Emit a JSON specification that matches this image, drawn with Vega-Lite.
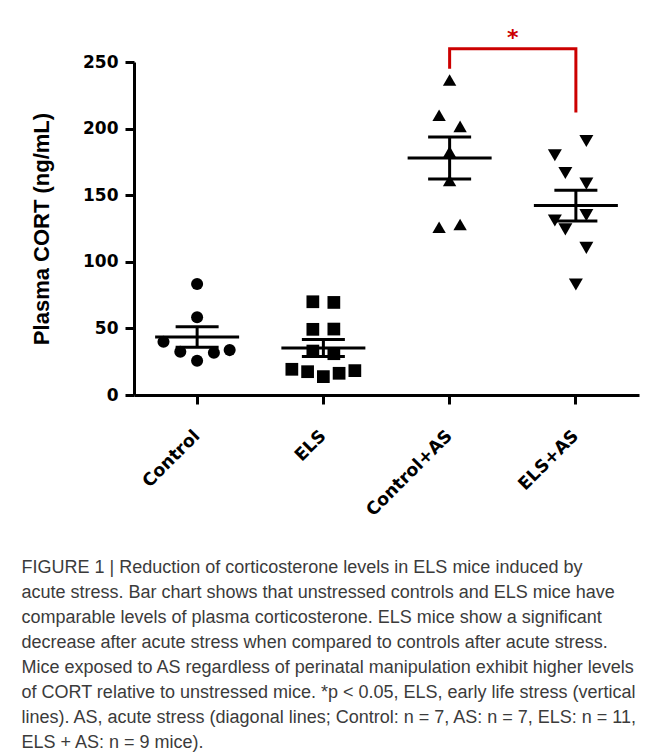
{
  "$schema": "https://vega.github.io/schema/vega-lite/v6.json",
  "width": 505,
  "height": 333,
  "autosize": {"type": "none"},
  "padding": {"left": 134, "top": 62, "right": 13, "bottom": 361},
  "background": "white",
  "config": {"view": {"stroke": null}},
  "title": {
    "text": [
      "FIGURE 1 | Reduction of corticosterone levels in ELS mice induced by",
      "acute stress. Bar chart shows that unstressed controls and ELS mice have",
      "comparable levels of plasma corticosterone. ELS mice show a significant",
      "decrease after acute stress when compared to controls after acute stress.",
      "Mice exposed to AS regardless of perinatal manipulation exhibit higher levels",
      "of CORT relative to unstressed mice. *p < 0.05, ELS, early life stress (vertical",
      "lines). AS, acute stress (diagonal lines; Control: n = 7, AS: n = 7, ELS: n = 11,",
      "ELS + AS: n = 9 mice)."
    ],
    "orient": "bottom",
    "anchor": "start",
    "frame": "bounds",
    "font": "Liberation Sans",
    "fontSize": 18,
    "fontWeight": "normal",
    "color": "#3b3b3b",
    "lineHeight": 25,
    "offset": 40,
    "dx": -9
  },
  "datasets": {
    "mice": [
      {"group": "Control", "cort": 83.3, "slot": 0},
      {"group": "Control", "cort": 58.3, "slot": 0},
      {"group": "Control", "cort": 40.0, "slot": -3.2},
      {"group": "Control", "cort": 32.5, "slot": -1.6},
      {"group": "Control", "cort": 25.7, "slot": 0},
      {"group": "Control", "cort": 31.7, "slot": 1.6},
      {"group": "Control", "cort": 33.7, "slot": 3.1},
      {"group": "ELS", "cort": 70.0, "slot": -1},
      {"group": "ELS", "cort": 69.5, "slot": 1},
      {"group": "ELS", "cort": 49.3, "slot": -1},
      {"group": "ELS", "cort": 49.5, "slot": 1},
      {"group": "ELS", "cort": 33.0, "slot": -1},
      {"group": "ELS", "cort": 31.0, "slot": 1},
      {"group": "ELS", "cort": 19.3, "slot": -3},
      {"group": "ELS", "cort": 17.5, "slot": -1.5},
      {"group": "ELS", "cort": 13.8, "slot": 0},
      {"group": "ELS", "cort": 16.3, "slot": 1.5},
      {"group": "ELS", "cort": 18.3, "slot": 3},
      {"group": "Control+AS", "cort": 236.5, "slot": 0},
      {"group": "Control+AS", "cort": 210.0, "slot": -1},
      {"group": "Control+AS", "cort": 201.7, "slot": 1},
      {"group": "Control+AS", "cort": 182.5, "slot": 0},
      {"group": "Control+AS", "cort": 161.0, "slot": 0},
      {"group": "Control+AS", "cort": 126.0, "slot": -1},
      {"group": "Control+AS", "cort": 128.0, "slot": 1},
      {"group": "ELS+AS", "cort": 190.7, "slot": 1},
      {"group": "ELS+AS", "cort": 180.0, "slot": -2},
      {"group": "ELS+AS", "cort": 166.7, "slot": -1},
      {"group": "ELS+AS", "cort": 158.7, "slot": 1},
      {"group": "ELS+AS", "cort": 131.0, "slot": -2},
      {"group": "ELS+AS", "cort": 124.3, "slot": -1},
      {"group": "ELS+AS", "cort": 135.0, "slot": 1},
      {"group": "ELS+AS", "cort": 110.5, "slot": 1},
      {"group": "ELS+AS", "cort": 83.0, "slot": 0}
    ],
    "bracket": [
      {"group": "Control+AS", "cort": 245, "seq": 1},
      {"group": "Control+AS", "cort": 260, "seq": 2},
      {"group": "ELS+AS", "cort": 260, "seq": 3},
      {"group": "ELS+AS", "cort": 212, "seq": 4}
    ],
    "star": [
      {"group": "ELS+AS", "cort": 268, "label": "*"}
    ]
  },
  "layer": [
    {
      "data": {"name": "mice"},
      "mark": {"type": "point", "filled": true, "opacity": 1, "color": "black", "strokeWidth": 0},
      "encoding": {
        "x": {
          "field": "group", "type": "nominal", "title": null,
          "sort": ["Control", "ELS", "Control+AS", "ELS+AS"],
          "scale": {"type": "band", "paddingInner": 0, "paddingOuter": 0},
          "axis": {
            "labelAngle": -45,
            "labelFont": "DejaVu Sans",
            "labelFontWeight": "bold",
            "labelFontSize": 17.5,
            "labelColor": "black",
            "labelAlign": "right",
            "labelBaseline": "middle",
            "labelPadding": 29,
            "domainColor": "black",
            "domainWidth": 3,
            "tickColor": "black",
            "tickWidth": 3,
            "tickSize": 9,
            "grid": false
          }
        },
        "xOffset": {"field": "slot", "type": "quantitative", "scale": {"domain": [-3, 3], "range": [31.6, 94.6]}},
        "y": {
          "field": "cort", "type": "quantitative", "title": "Plasma CORT (ng/mL)",
          "scale": {"domain": [0, 250], "nice": false},
          "axis": {
            "values": [0, 50, 100, 150, 200, 250],
            "labelFont": "DejaVu Sans",
            "labelFontWeight": "bold",
            "labelFontSize": 17,
            "labelColor": "black",
            "labelPadding": 7,
            "domainColor": "black",
            "domainWidth": 3,
            "tickColor": "black",
            "tickWidth": 3,
            "tickSize": 9,
            "grid": false,
            "titleFont": "Liberation Sans",
            "titleFontSize": 22,
            "titleFontWeight": "bold",
            "titleColor": "black",
            "titlePadding": 29
          }
        },
        "shape": {
          "field": "group", "type": "nominal", "legend": null,
          "scale": {"domain": ["Control", "ELS", "Control+AS", "ELS+AS"], "range": ["circle", "square", "triangle-up", "triangle-down"]}
        },
        "size": {
          "field": "group", "type": "nominal", "legend": null,
          "scale": {"domain": ["Control", "ELS", "Control+AS", "ELS+AS"], "range": [145, 196, 200, 200]}
        }
      }
    },
    {
      "data": {"name": "mice"},
      "mark": {"type": "errorbar", "extent": "stderr", "size": 43, "thickness": 3, "color": "black", "opacity": 1, "ticks": {"color": "black", "opacity": 1}, "rule": {"color": "black", "opacity": 1}},
      "encoding": {
        "x": {"field": "group", "type": "nominal", "title": null, "sort": ["Control", "ELS", "Control+AS", "ELS+AS"], "scale": {"type": "band", "paddingInner": 0, "paddingOuter": 0}},
        "y": {"field": "cort", "type": "quantitative", "title": "Plasma CORT (ng/mL)", "scale": {"domain": [0, 250], "nice": false}}
      }
    },
    {
      "data": {"name": "mice"},
      "mark": {"type": "tick", "size": 84, "thickness": 3, "color": "black", "opacity": 1},
      "encoding": {
        "x": {"field": "group", "type": "nominal", "title": null, "sort": ["Control", "ELS", "Control+AS", "ELS+AS"], "scale": {"type": "band", "paddingInner": 0, "paddingOuter": 0}},
        "y": {"field": "cort", "aggregate": "mean", "type": "quantitative", "title": "Plasma CORT (ng/mL)", "scale": {"domain": [0, 250], "nice": false}}
      }
    },
    {
      "data": {"name": "bracket"},
      "mark": {"type": "line", "color": "#cc0000", "strokeWidth": 3, "strokeJoin": "miter"},
      "encoding": {
        "x": {"field": "group", "type": "nominal", "title": null, "sort": ["Control", "ELS", "Control+AS", "ELS+AS"], "scale": {"type": "band", "paddingInner": 0, "paddingOuter": 0}},
        "y": {"field": "cort", "type": "quantitative", "title": "Plasma CORT (ng/mL)", "scale": {"domain": [0, 250], "nice": false}},
        "order": {"field": "seq", "type": "quantitative"}
      }
    },
    {
      "data": {"name": "star"},
      "mark": {"type": "text", "color": "#cc0000", "fontSize": 22, "fontWeight": "bold", "font": "DejaVu Sans", "baseline": "middle"},
      "encoding": {
        "x": {"field": "group", "type": "nominal", "title": null, "bandPosition": 0, "sort": ["Control", "ELS", "Control+AS", "ELS+AS"], "scale": {"type": "band", "paddingInner": 0, "paddingOuter": 0}},
        "y": {"field": "cort", "type": "quantitative", "title": "Plasma CORT (ng/mL)", "scale": {"domain": [0, 250], "nice": false}},
        "text": {"field": "label"}
      }
    }
  ]
}
